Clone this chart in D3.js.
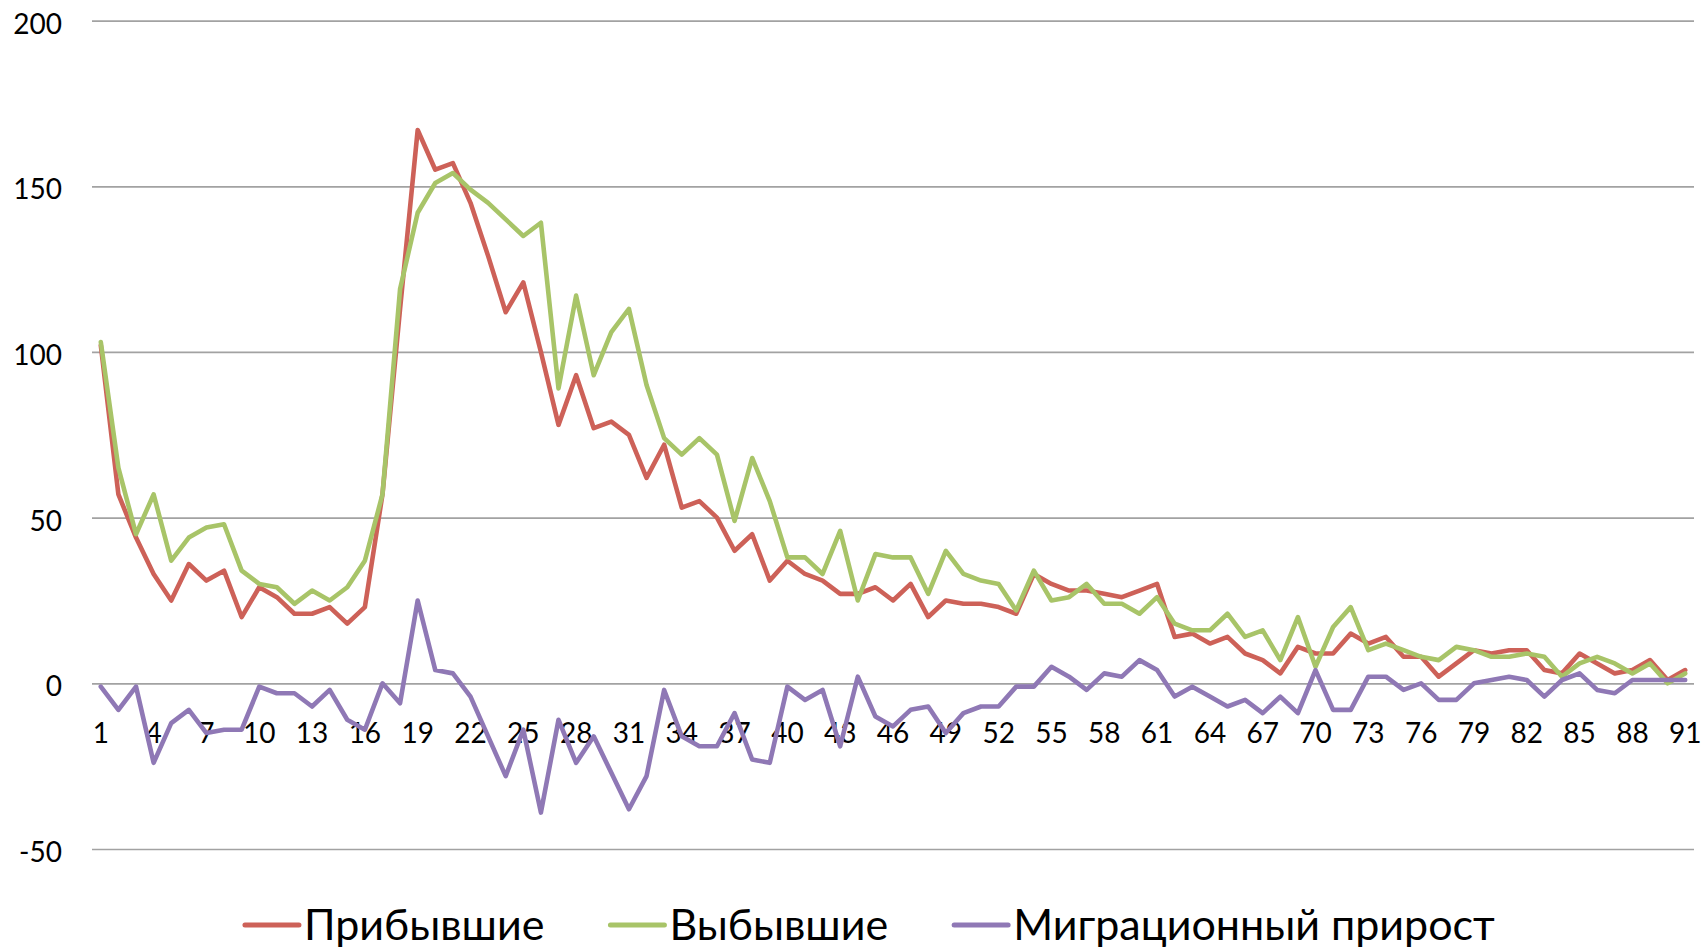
<!DOCTYPE html>
<html>
<head>
<meta charset="utf-8">
<script src="https://cdn.jsdelivr.net/npm/d3@7"></script>
<style>
  body { margin: 0; background: #fff; }
  text { font-family: Lato, "Open Sans", sans-serif; fill: #000; }
</style>
</head>
<body>
<script>
// Data
var categories = d3.range(1, 92);

var arrived = [102, 57, 44, 33, 25, 36, 31, 34, 20, 29, 26, 21, 21, 23, 18, 23, 57, 113, 167, 155,
  157, 145, 129, 112, 121, 100, 78, 93, 77, 79, 75, 62, 72, 53, 55, 50, 40, 45, 31, 37,
  33, 31, 27, 27, 29, 25, 30, 20, 25, 24, 24, 23, 21, 33, 30, 28, 28, 27, 26, 28,
  30, 14, 15, 12, 14, 9, 7, 3, 11, 9, 9, 15, 12, 14, 8, 8, 2, 6, 10, 9,
  10, 10, 4, 3, 9, 6, 3, 4, 7, 1, 4];

var departed = [103, 65, 45, 57, 37, 44, 47, 48, 34, 30, 29, 24, 28, 25, 29, 37, 57, 119, 142, 151,
  154, 149, 145, 140, 135, 139, 89, 117, 93, 106, 113, 90, 74, 69, 74, 69, 49, 68, 55, 38,
  38, 33, 46, 25, 39, 38, 38, 27, 40, 33, 31, 30, 22, 34, 25, 26, 30, 24, 24, 21,
  26, 18, 16, 16, 21, 14, 16, 7, 20, 5, 17, 23, 10, 12, 10, 8, 7, 11, 10, 8,
  8, 9, 8, 2, 6, 8, 6, 3, 6, 0, 3];

var migration = [-1, -8, -1, -24, -12, -8, -15, -14, -14, -1, -3, -3, -7, -2, -11, -14, 0, -6, 25, 4,
  3, -4, -16, -28, -14, -39, -11, -24, -16, -27, -38, -28, -2, -16, -19, -19, -9, -23, -24, -1,
  -5, -2, -19, 2, -10, -13, -8, -7, -15, -9, -7, -7, -1, -1, 5, 2, -2, 3, 2, 7,
  4, -4, -1, -4, -7, -5, -9, -4, -9, 4, -8, -8, 2, 2, -2, 0, -5, -5, 0, 1,
  2, 1, -4, 1, 3, -2, -3, 1, 1, 1, 1];

var yTicks = [-50, 0, 50, 100, 150, 200];
var xTicks = categories.filter(function (d) { return (d - 1) % 3 === 0; });

var seriesNames = ['Прибывшие', 'Выбывшие', 'Миграционный прирост'];
var seriesColors = ['#cd6158', '#a8c468', '#8f78b5'];

var width = 1704, height = 950;
var svg = d3.select('body').append('svg')
  .attr('width', width)
  .attr('height', height);

var x = d3.scaleBand().domain(categories).range([92, 1694]);
var y = d3.scaleLinear().domain([-50, 200]).range([849, 20.6]);

// gridlines + value labels
var yAxis = svg.append('g')
  .attr('transform', 'translate(92,0)')
  .call(d3.axisLeft(y)
    .tickValues(yTicks)
    .tickSize(-(1694 - 92))
    .tickPadding(30)
    .tickFormat(function (d) { return String(d); }));
yAxis.select('.domain').remove();
yAxis.selectAll('line').attr('stroke', '#a2a2a2').attr('stroke-width', 1.7);
yAxis.selectAll('text')
  .attr('font-size', 28)
  .attr('dy', '0.45em')
  .attr('font-family', 'Lato, sans-serif');

// category labels
var xAxis = svg.append('g')
  .attr('transform', 'translate(0,' + y(0) + ')')
  .call(d3.axisBottom(x).tickValues(xTicks).tickSize(0).tickPadding(40));
xAxis.select('.domain').remove();
xAxis.selectAll('text')
  .attr('font-size', 28)
  .attr('dy', '0.71em')
  .attr('font-family', 'Lato, sans-serif');

var line = d3.line()
  .x(function (d, i) { return x(categories[i]) + x.bandwidth() / 2; })
  .y(function (d) { return y(d); });

[arrived, departed, migration].forEach(function (values, k) {
  svg.append('path')
    .datum(values)
    .attr('fill', 'none')
    .attr('stroke', seriesColors[k])
    .attr('stroke-width', 4.6)
    .attr('stroke-linejoin', 'round')
    .attr('stroke-linecap', 'round')
    .attr('d', line);
});

// legend
var legend = svg.append('g');
var items = legend.selectAll('g')
  .data(seriesNames)
  .enter()
  .append('g');
items.append('line')
  .attr('x1', 0).attr('x2', 54)
  .attr('y1', 0).attr('y2', 0)
  .attr('stroke', function (d, i) { return seriesColors[i]; })
  .attr('stroke-width', 5)
  .attr('stroke-linecap', 'round');
items.append('text')
  .attr('x', 59)
  .attr('dy', '0.34em')
  .attr('font-size', 43)
  .text(function (d) { return d; });

var gap = 66;
var pos = 0, offsets = [];
items.each(function () {
  offsets.push(pos);
  pos += this.getBBox().width + gap;
});
var total = pos - gap;
var startX = 870 - total / 2;
items.attr('transform', function (d, i) {
  return 'translate(' + (startX + offsets[i]) + ',925)';
});
</script>
</body>
</html>
